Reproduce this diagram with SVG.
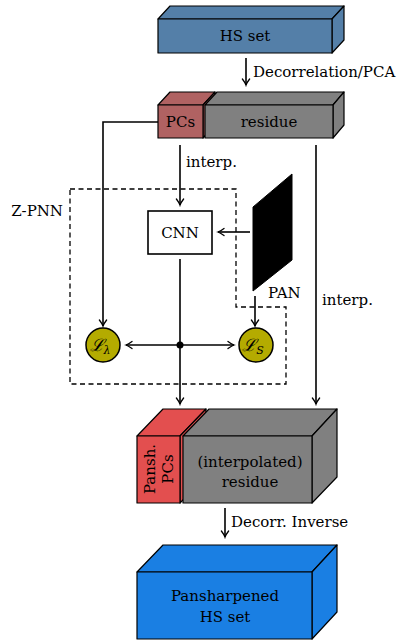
<svg xmlns="http://www.w3.org/2000/svg" width="400" height="644" viewBox="0 0 400 644">
<defs>
<style>
.face{stroke:#000;stroke-width:1.2;stroke-linejoin:round}
.t{font-family:'DejaVu Serif',serif;font-size:15px;fill:#000}
.ln{fill:none;stroke:#000;stroke-width:1.6}
.dash{fill:none;stroke:#000;stroke-width:1.3;stroke-dasharray:5,3.5}
.m{font-family:'DejaVu Serif',serif;font-style:italic;fill:#000}
</style>
<marker id="ah" viewBox="-8 -5 10 10" refX="0" refY="0" markerWidth="10" markerHeight="10" markerUnits="userSpaceOnUse" orient="auto">
<path d="M-6,-3.6 Q-2,-0.6 0,0 Q-2,0.6 -6,3.6" fill="none" stroke="#000" stroke-width="1.3" stroke-linecap="round"/>
</marker>
</defs>
<rect width="400" height="644" fill="#fff"/>

<g id="hs-set">
<polygon class="face" fill="#547fa8" points="158,19 170,6 344,6 332,19"/>
<polygon class="face" fill="#547fa8" points="332,19 344,6 344,40 332,53"/>
<rect class="face" fill="#547fa8" x="158" y="19" width="174" height="34"/>
<text class="t" x="245" y="41" text-anchor="middle">HS set</text>
</g>

<g id="pcs">
<polygon class="face" fill="#b06262" points="158,105 170,92 215,92 203,105"/>
<polygon class="face" fill="#b06262" points="203,105 215,92 215,125 203,138"/>
<rect class="face" fill="#b06262" x="158" y="105" width="45" height="33"/>
<text class="t" x="180.5" y="127" text-anchor="middle">PCs</text>
</g>

<g id="residue">
<polygon class="face" fill="#808080" points="205,105 217,92 344,92 333,105"/>
<polygon class="face" fill="#808080" points="333,105 344,92 344,125 333,138"/>
<rect class="face" fill="#808080" x="205" y="105" width="128" height="33"/>
<text class="t" x="269" y="127" text-anchor="middle">residue</text>
</g>

<g id="z-pnn">
<polygon class="dash" points="70,189 236,189 236,307 286,307 286,384 70,384"/>
<text class="t" x="63" y="216" text-anchor="end">Z-PNN</text>
</g>

<g id="cnn">
<rect x="148" y="211" width="64" height="43" fill="#fff" stroke="#000" stroke-width="1.6"/>
<text class="t" x="180" y="238" text-anchor="middle">CNN</text>
</g>

<g id="pan">
<polygon fill="#000" stroke="#000" stroke-width="1" points="253,207 292,174 292,260 253,291"/>
<text class="t" x="268" y="298">PAN</text>
</g>

<g id="l-lambda">
<circle cx="103" cy="345" r="17" fill="#b4ab00" stroke="#000" stroke-width="1.5"/>
<text class="m" x="100" y="351" font-size="17" text-anchor="middle">ℒ<tspan font-size="11" dy="3">λ</tspan></text>
</g>

<g id="l-s">
<circle cx="256" cy="345" r="17" fill="#b4ab00" stroke="#000" stroke-width="1.5"/>
<text class="m" x="253" y="351" font-size="17" text-anchor="middle">ℒ<tspan font-size="11" dy="3">S</tspan></text>
</g>

<g id="pansh-pcs">
<polygon class="face" fill="#e34f4f" points="137,436 163,409 206,409 180,436"/>
<polygon class="face" fill="#e34f4f" points="180,436 206,409 206,476 180,503"/>
<rect class="face" fill="#e34f4f" x="137" y="436" width="43" height="67"/>
<text class="t" transform="translate(155,469) rotate(-90)" text-anchor="middle">Pansh.</text>
<text class="t" transform="translate(173,469) rotate(-90)" text-anchor="middle">PCs</text>
</g>

<g id="interp-residue">
<polygon class="face" fill="#808080" points="183,436 209,409 337,409 312,436"/>
<polygon class="face" fill="#808080" points="312,436 337,409 337,477 312,503"/>
<rect class="face" fill="#808080" x="183" y="436" width="129" height="67"/>
<text class="t" x="250" y="467" text-anchor="middle">(interpolated)</text>
<text class="t" x="250" y="487" text-anchor="middle">residue</text>
</g>

<g id="pansharpened">
<polygon class="face" fill="#1a7fe3" points="137,572 163,545 337,545 312,572"/>
<polygon class="face" fill="#1a7fe3" points="312,572 337,545 337,612 312,639"/>
<rect class="face" fill="#1a7fe3" x="137" y="572" width="175" height="67"/>
<text class="t" x="225" y="601" text-anchor="middle">Pansharpened</text>
<text class="t" x="225" y="622" text-anchor="middle">HS set</text>
</g>

<g id="connectors">
<line class="ln" x1="246" y1="58" x2="246" y2="85" marker-end="url(#ah)"/>
<text class="t" x="253" y="77">Decorrelation/PCA</text>
<polyline class="ln" points="158,122 103,122 103,326" marker-end="url(#ah)"/>
<line class="ln" x1="180" y1="145" x2="180" y2="205" marker-end="url(#ah)"/>
<text class="t" x="186" y="167">interp.</text>
<line class="ln" x1="316" y1="145" x2="316" y2="404" marker-end="url(#ah)"/>
<text class="t" x="322" y="305">interp.</text>
<line class="ln" x1="250" y1="232" x2="218" y2="232" marker-end="url(#ah)"/>
<line class="ln" x1="255" y1="296" x2="255" y2="326" marker-end="url(#ah)"/>
<line class="ln" x1="180" y1="259" x2="180" y2="404" marker-end="url(#ah)"/>
<line class="ln" x1="180" y1="345" x2="126" y2="345" marker-end="url(#ah)"/>
<line class="ln" x1="180" y1="345" x2="234" y2="345" marker-end="url(#ah)"/>
<circle cx="180" cy="345" r="3.5" fill="#000"/>
<line class="ln" x1="225" y1="508" x2="225" y2="537" marker-end="url(#ah)"/>
<text class="t" x="231" y="527">Decorr. Inverse</text>
</g>
</svg>
